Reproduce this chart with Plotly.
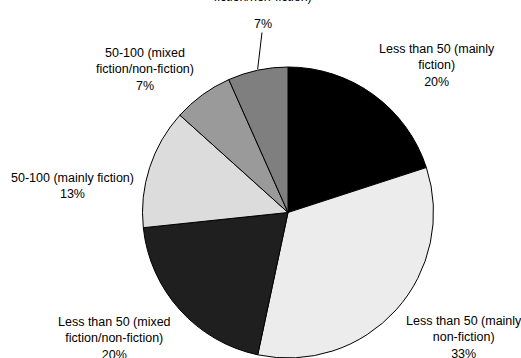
import math
import plotly.graph_objects as go

W, H = 521, 358

categories = [
    "Less than 50 (mainly fiction)",
    "Less than 50 (mainly non-fiction)",
    "Less than 50 (mixed fiction/non-fiction)",
    "50-100 (mainly fiction)",
    "50-100 (mixed fiction/non-fiction)",
    "More than 100 (mixed fiction/non-fiction)",
]
label_text = [
    "Less than 50 (mainly<br>fiction)",
    "Less than 50 (mainly<br>non-fiction)",
    "Less than 50 (mixed<br>fiction/non-fiction)",
    "50-100 (mainly fiction)",
    "50-100 (mixed<br>fiction/non-fiction)",
    "More than 100 (mixed<br>fiction/non-fiction)",
]
counts = [3, 5, 3, 2, 1, 1]
colors = ["#000000", "#ececec", "#1f1f1f", "#dcdcdc", "#9a9a9a", "#7f7f7f"]

# label block centres in pixels (x, y of block middle)
label_pos = [(437, 66), (464, 337), (114, 338), (72, 186), (145, 70), (263, 9)]

total = sum(counts)
FONT = dict(family="Liberation Sans, Arial, sans-serif", size=12.5, color="#000000")

# pie geometry (pixels)
cx, cy, r = 288, 213, 146
dom_x = [(cx - r) / W, (cx + r) / W]
dom_y = [0.0, 1 - (cy - r) / H]

fig = go.Figure(go.Pie(
    labels=categories,
    values=counts,
    sort=False,
    direction="clockwise",
    rotation=0,
    textinfo="none",
    hoverinfo="label+percent",
    marker=dict(colors=colors, line=dict(color="#000000", width=1)),
    domain=dict(x=dom_x, y=dom_y),
    showlegend=False,
))

annotations = []
n = len(counts)
for i, (txt, c, (px, py)) in enumerate(zip(label_text, counts, label_pos)):
    pct = round(100 * c / total)
    if i < n - 1:
        annotations.append(dict(
            text=f"{txt}<br>{pct}%",
            x=px / W, y=1 - py / H, xref="paper", yref="paper",
            xanchor="center", yanchor="middle", align="center",
            showarrow=False, font=FONT,
        ))
    else:
        # top label: category text mostly cut off at the top edge,
        # percentage with a leader line to the slice
        annotations.append(dict(
            text=txt,
            x=px / W, y=1 + 11 / H, xref="paper", yref="paper",
            xanchor="center", yanchor="middle", align="center",
            showarrow=False, font=FONT,
        ))
        cum = sum(counts[:-1]) + c / 2
        ang = 2 * math.pi * cum / total
        ex = cx + r * math.sin(ang)
        ey = cy - r * math.cos(ang) - 1
        annotations.append(dict(
            text=f"{pct}%",
            x=ex / W, y=1 - ey / H, xref="paper", yref="paper",
            ax=px - ex, ay=24 - ey, axref="pixel", ayref="pixel",
            xanchor="center", yanchor="middle", align="center",
            showarrow=True, arrowhead=0, arrowwidth=1, arrowcolor="#000000",
            standoff=0, startstandoff=0, font=FONT,
        ))

fig.update_layout(
    width=W, height=H,
    margin=dict(l=0, r=0, t=0, b=0),
    paper_bgcolor="#ffffff",
    plot_bgcolor="#ffffff",
    annotations=annotations,
)

fig.write_html("out.html")
